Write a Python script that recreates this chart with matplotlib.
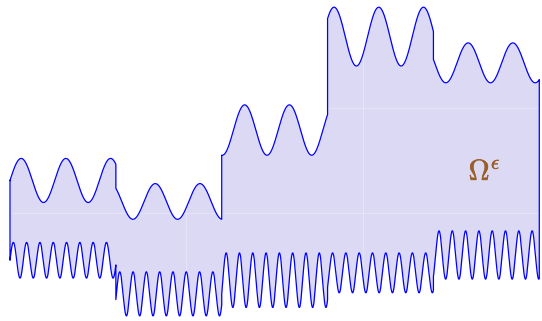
import numpy as np
import matplotlib
matplotlib.use("Agg")
from matplotlib import pyplot as plt
from matplotlib import patheffects as pe

# ------------------------------------------------------------------
# oscillating domain Omega^eps: 5 cells, slow wiggle on top,
# fast wiggle on the bottom, each cell with its own level/amplitude
# ------------------------------------------------------------------
breaks = [0.0, 0.6, 1.2, 1.8, 2.4, 3.0]
top_mid = [1.31, 1.11, 1.79, 2.68, 2.43]
top_amp = [0.21, 0.17, 0.24, 0.28, 0.19]
bot_mid = [0.55, 0.23, 0.36, 0.43, 0.60]
bot_amp = [0.17, 0.21, 0.26, 0.19, 0.23]
k_top = 24.8
k_bot = 250.0 / 3.0

plt.rcParams['mathtext.fontset'] = 'cm'

xs, top, bot = [], [], []
for i in range(len(top_mid)):
    x = np.linspace(breaks[i], breaks[i + 1], 400)
    xs.append(x)
    top.append(top_mid[i] + top_amp[i] * np.sin(k_top * x))
    bot.append(bot_mid[i] + bot_amp[i] * np.sin(k_bot * x))
xs = np.concatenate(xs)
top = np.concatenate(top)
bot = np.concatenate(bot)

fig = plt.figure(figsize=(5.42, 3.21), dpi=100)
ax = fig.add_axes([0, 0, 1, 1])

ax.fill_between(xs, bot, top, color='#dcd9f5', lw=0, zorder=1)
# closed boundary: top, right edge, bottom (reversed), left edge
bx = np.concatenate([xs, xs[::-1], xs[:1]])
by = np.concatenate([top, bot[::-1], top[:1]])
ax.plot(bx, by, color='blue', lw=0.9, zorder=2)

ax.text(2.69, 1.39, r'$\Omega^\epsilon$', color='#9c5e28', fontsize=21,
        ha='center', va='center', zorder=3,
        path_effects=[pe.withStroke(linewidth=0.35, foreground='#9c5e28')])

ax.set_xlim(-0.0567, 3.0154)
ax.set_ylim(-0.0286, 3.0286)
ax.set_xticks([0, 1, 2, 3])
ax.set_yticks([0, 1, 2, 3])
ax.grid(True, color='white', alpha=0.28, lw=0.8)
ax.set_axisbelow('line')
ax.tick_params(length=0, labelbottom=False, labelleft=False)
for s in ax.spines.values():
    s.set_visible(False)

fig.savefig('out.png', dpi=100)
